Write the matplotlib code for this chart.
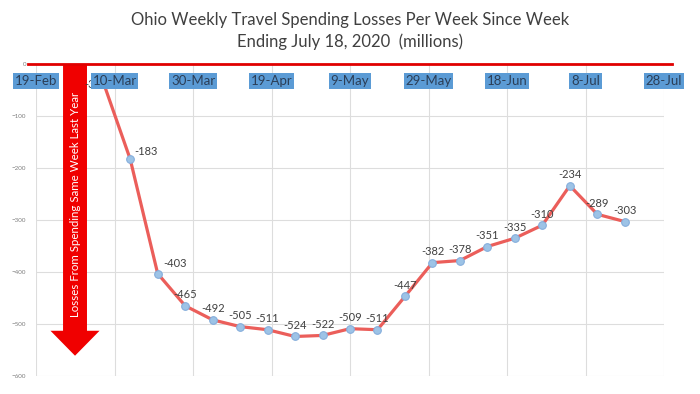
import matplotlib
matplotlib.use("Agg")
import matplotlib.pyplot as plt
import matplotlib.dates as mdates
from matplotlib.patches import FancyArrow
from matplotlib.transforms import blended_transform_factory
import datetime as dt

# ---- data ----
week_ending = ["2020-03-07", "2020-03-14", "2020-03-21", "2020-03-28", "2020-04-04",
               "2020-04-11", "2020-04-18", "2020-04-25", "2020-05-02", "2020-05-09",
               "2020-05-16", "2020-05-23", "2020-05-30", "2020-06-06", "2020-06-13",
               "2020-06-20", "2020-06-27", "2020-07-04", "2020-07-11", "2020-07-18"]
losses = [-32, -183, -403, -465, -492, -505, -511, -524, -522, -509,
          -511, -447, -382, -378, -351, -335, -310, -234, -289, -303]
tick_dates = ["2020-02-19", "2020-03-10", "2020-03-30", "2020-04-19", "2020-05-09",
              "2020-05-29", "2020-06-18", "2020-07-08", "2020-07-28"]
tick_labels = ["19-Feb", "10-Mar", "30-Mar", "19-Apr", "9-May",
               "29-May", "18-Jun", "8-Jul", "28-Jul"]
y_ticks = [0, -100, -200, -300, -400, -500, -600]
title = "Ohio Weekly Travel Spending Losses Per Week Since Week\nEnding July 18, 2020  (millions)"
arrow_text = "Losses From Spending Same Week Last Year"

plt.rcParams['font.family'] = ['Lato', 'DejaVu Sans']

dates = [mdates.date2num(dt.datetime.strptime(d, "%Y-%m-%d")) for d in week_ending]
tdates = [mdates.date2num(dt.datetime.strptime(d, "%Y-%m-%d")) for d in tick_dates]

fig = plt.figure(figsize=(7, 3.94), dpi=100)
ax = fig.add_axes([36/700, 1-376/394, 628/700, 312/394])
ax.set_xlim(tdates[0], tdates[-1])
ax.set_ylim(-600, 0)

for s in ax.spines.values():
    s.set_visible(False)
ax.set_xticks(tdates)
ax.set_xticklabels([])
ax.set_yticks(y_ticks)
ax.tick_params(axis='x', length=0)
ax.tick_params(axis='y', length=0, pad=7, labelsize=4.5, labelcolor='#7F7F7F')
ax.grid(True, color='#DDDDDD', lw=0.8)
ax.set_axisbelow(True)

# arrow
xc = tdates[0] + 9.94
arr = FancyArrow(xc, 0, 0, -561, width=6.1, head_width=12.5, head_length=48,
                 length_includes_head=True, color='#F00000', lw=0, zorder=3)
ax.add_patch(arr)
ax.text(xc, -270, arrow_text, rotation=90, ha='center', va='center',
        color='white', fontsize=8.3, zorder=4)

# line
ax.plot(dates, losses, color='#EB5E5A', lw=2.3, zorder=5,
        marker='o', ms=5.5, mfc='#9DC3E6', mec='#85AEDC', mew=0.8)

# data labels
for i, (d, v) in enumerate(zip(dates, losses)):
    if i == 0:
        off, ha = (-1, -3), 'right'
    elif i == 1:
        off, ha = (3, 5.5), 'left'
    elif i == 2:
        off, ha = (4, 7), 'left'
    else:
        off, ha = (0, 8), 'center'
    ax.annotate(str(v), (d, v), xytext=off, textcoords='offset points',
                ha=ha, va='center', fontsize=8, color='#404040', zorder=6)

# zero line
ax.axhline(0, xmin=-8/628, xmax=636/628, color='#E00000', lw=2, clip_on=False, zorder=7)

# x tick labels in blue boxes
trans = blended_transform_factory(ax.transData, ax.transAxes)
for t, lab in zip(tdates, tick_labels):
    ax.text(t, (376-81)/312, lab, transform=trans, ha='center', va='center',
            fontsize=9.5, color='#2B3E57', zorder=8,
            bbox=dict(boxstyle='square,pad=0.12', fc='#5B9BD5', ec='none'))

fig.text(0.5, 1-31/394, title, ha='center', va='center', fontsize=12,
         color='#404040', linespacing=1.45)

fig.savefig("out.png", dpi=100)
